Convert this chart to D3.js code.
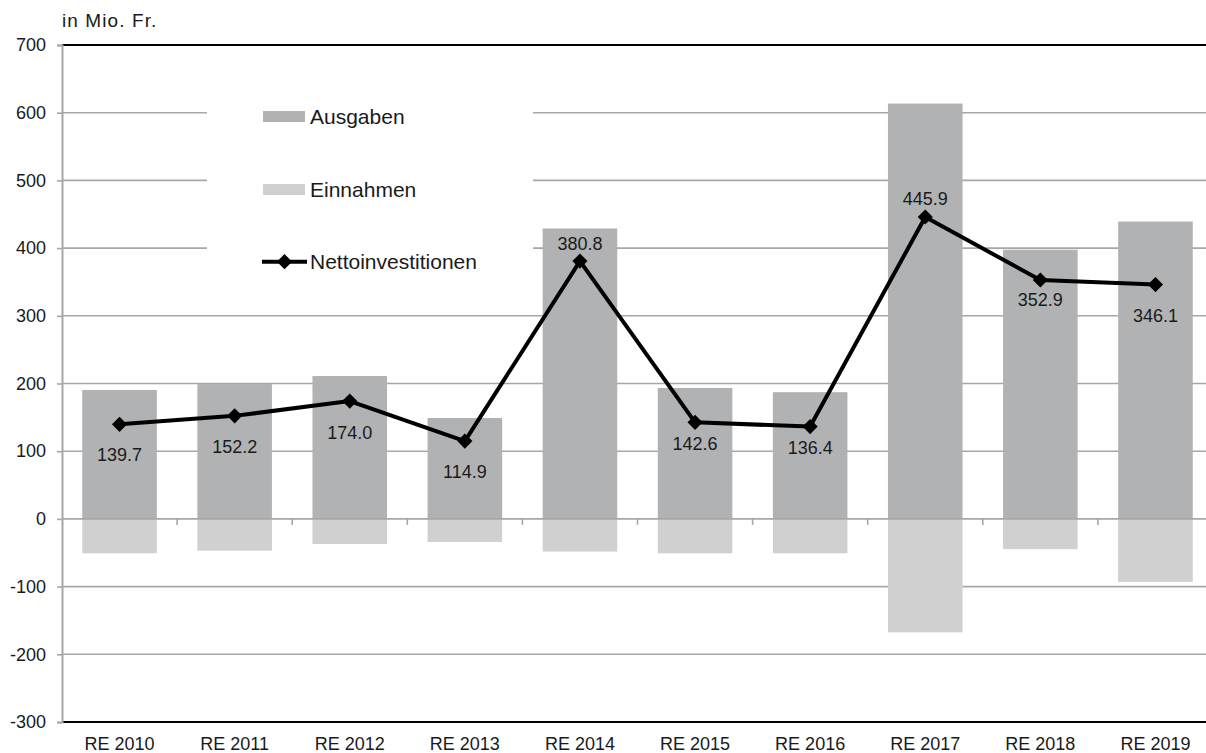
<!DOCTYPE html>
<html>
<head>
<meta charset="utf-8">
<script src="https://cdn.jsdelivr.net/npm/d3@7"></script>
<style>
  html, body { margin: 0; padding: 0; background: #fff; }
  svg { display: block; font-family: "Liberation Sans", Arial, sans-serif; }
</style>
</head>
<body>
<svg id="chart" width="1206" height="753"></svg>
<script>
// Investment accounts, in millions of francs
const categories = ["RE 2010", "RE 2011", "RE 2012", "RE 2013", "RE 2014",
                    "RE 2015", "RE 2016", "RE 2017", "RE 2018", "RE 2019"];
const ausgaben  = [190.5, 199.2, 211.1, 149.0, 429.0, 193.4, 187.2, 613.5, 397.6, 439.2];
const einnahmen = [-50.8, -47.0, -37.1, -34.1, -48.2, -50.8, -50.8, -167.6, -44.7, -93.1];
const netto     = [139.7, 152.2, 174.0, 114.9, 380.8, 142.6, 136.4, 445.9, 352.9, 346.1];
const yTicks    = [-300, -200, -100, 0, 100, 200, 300, 400, 500, 600, 700];
const seriesNames = ["Ausgaben", "Einnahmen", "Nettoinvestitionen"];

// vertical offset of each value label from its point (negative = above)
const labelOffset = [30, 31, 31, 30, -18, 21, 21, -19, 20, 31];

(function () {
  const svg = d3.select("#chart");
  const plotLeft = 62, plotRight = 1213, plotTop = 45, plotBottom = 722;
  const textColor = "#1a1a1a";
  const gridColor = "#a7a7a7";
  const colAus = "#b1b2b4", colEin = "#d0d0d0";

  const x = d3.scaleBand().domain(categories).range([plotLeft, plotRight])
    .paddingInner(0.352).paddingOuter(0.176);
  const y = d3.scaleLinear().domain([-300, 700]).range([plotBottom, plotTop]);
  const cx = d => x(d) + x.bandwidth() / 2;

  // gridlines
  svg.append("g").selectAll("line")
    .data(yTicks.filter(v => v !== 0 && v !== -300 && v !== 700))
    .join("line")
    .attr("x1", plotLeft).attr("x2", plotRight)
    .attr("y1", d => y(d)).attr("y2", d => y(d))
    .attr("stroke", gridColor).attr("stroke-width", 1.6);

  // legend background hides the gridlines behind it
  svg.append("rect")
    .attr("x", 207).attr("y", 70).attr("width", 326).attr("height", 225)
    .attr("fill", "#fff");

  // bars
  const rows = categories.map((c, i) => ({ c, a: ausgaben[i], e: einnahmen[i], n: netto[i], off: labelOffset[i] }));
  svg.append("g").selectAll("rect")
    .data(rows).join("rect")
    .attr("x", d => x(d.c)).attr("width", x.bandwidth())
    .attr("y", d => y(d.a)).attr("height", d => y(0) - y(d.a))
    .attr("fill", colAus);
  svg.append("g").selectAll("rect")
    .data(rows).join("rect")
    .attr("x", d => x(d.c)).attr("width", x.bandwidth())
    .attr("y", y(0)).attr("height", d => y(d.e) - y(0))
    .attr("fill", colEin);

  // zero axis with ticks between categories
  svg.append("line")
    .attr("x1", plotLeft).attr("x2", plotRight).attr("y1", y(0)).attr("y2", y(0))
    .attr("stroke", gridColor).attr("stroke-width", 1.6);
  const gap = x.step() - x.bandwidth();
  svg.append("g").selectAll("line")
    .data(categories.slice(1))
    .join("line")
    .attr("x1", d => x(d) - gap / 2)
    .attr("x2", d => x(d) - gap / 2)
    .attr("y1", y(0)).attr("y2", y(0) + 6)
    .attr("stroke", gridColor).attr("stroke-width", 1.6);

  // top and bottom frame lines
  svg.append("line").attr("x1", plotLeft).attr("x2", plotRight).attr("y1", plotTop).attr("y2", plotTop)
    .attr("stroke", "#000").attr("stroke-width", 2);
  svg.append("line").attr("x1", plotLeft).attr("x2", plotRight).attr("y1", plotBottom).attr("y2", plotBottom)
    .attr("stroke", "#000").attr("stroke-width", 2);

  // y axis (plain hyphen for negative numbers)
  const yAxis = svg.append("g")
    .attr("transform", `translate(${plotLeft},0)`)
    .call(d3.axisLeft(y).tickValues(yTicks).tickSize(5).tickPadding(11).tickFormat(d => String(d)));
  yAxis.select(".domain").attr("stroke", gridColor).attr("stroke-width", 2);
  yAxis.selectAll(".tick line").attr("stroke", gridColor).attr("stroke-width", 1.6);
  yAxis.selectAll(".tick text")
    .attr("fill", textColor).style("font-size", "18px")
    .style("font-family", "'Liberation Sans', Arial, sans-serif");

  // x axis labels
  const xAxis = svg.append("g")
    .attr("transform", `translate(0,${plotBottom})`)
    .call(d3.axisBottom(x).tickSize(0).tickPadding(15));
  xAxis.select(".domain").remove();
  xAxis.selectAll(".tick text")
    .attr("fill", textColor).style("font-size", "18px")
    .style("font-family", "'Liberation Sans', Arial, sans-serif");

  // unit label
  svg.append("text")
    .attr("x", 62).attr("y", 27)
    .attr("fill", textColor).style("font-size", "19px").style("letter-spacing", "1.1px")
    .text("in Mio. Fr.");

  // net investment line
  const line = d3.line().x(d => cx(d.c)).y(d => y(d.n));
  svg.append("path")
    .datum(rows).attr("d", line)
    .attr("fill", "none").attr("stroke", "#000").attr("stroke-width", 4)
    .attr("stroke-linejoin", "round");

  const diamond = d3.symbol(d3.symbolSquare, 115);
  svg.append("g").selectAll("path")
    .data(rows).join("path")
    .attr("d", diamond)
    .attr("transform", d => `translate(${cx(d.c)},${y(d.n)}) rotate(45)`)
    .attr("fill", "#000");

  // value labels
  svg.append("g").selectAll("text")
    .data(rows).join("text")
    .attr("x", d => cx(d.c)).attr("y", d => y(d.n) + d.off)
    .attr("dy", "0.36em")
    .attr("text-anchor", "middle")
    .attr("fill", textColor).style("font-size", "18px")
    .text(d => d3.format(".1f")(d.n));

  // legend
  const legend = svg.append("g");
  const legendY = [116.5, 189.5, 261.7];
  legend.append("rect").attr("x", 263).attr("y", legendY[0] - 5.5).attr("width", 42).attr("height", 11).attr("fill", colAus);
  legend.append("rect").attr("x", 263).attr("y", legendY[1] - 5.5).attr("width", 42).attr("height", 11).attr("fill", colEin);
  legend.append("line").attr("x1", 262).attr("x2", 307).attr("y1", legendY[2]).attr("y2", legendY[2])
    .attr("stroke", "#000").attr("stroke-width", 4);
  legend.append("path").attr("d", diamond)
    .attr("transform", `translate(284.5,${legendY[2]}) rotate(45)`).attr("fill", "#000");
  legend.selectAll("text")
    .data(seriesNames).join("text")
    .attr("x", 310).attr("y", (d, i) => legendY[i])
    .attr("dy", "0.36em")
    .attr("fill", textColor).style("font-size", "21px")
    .text(d => d);
})();
</script>
</body>
</html>
